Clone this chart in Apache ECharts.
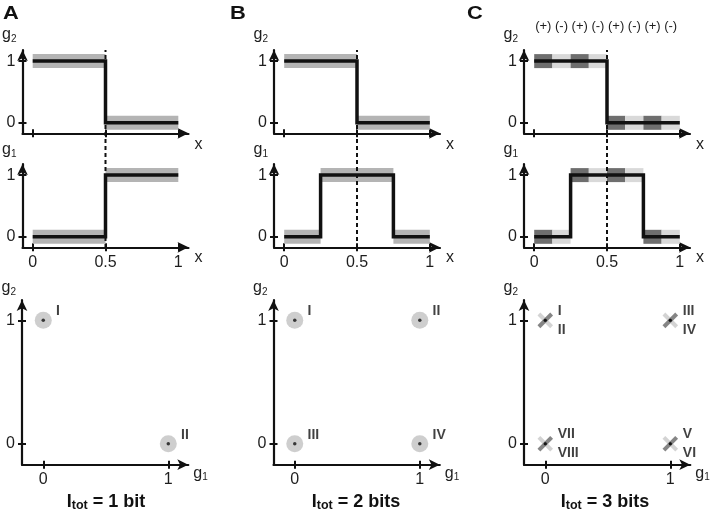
<!DOCTYPE html>
<html><head><meta charset="utf-8">
<script src="https://cdn.jsdelivr.net/npm/echarts@6/dist/echarts.min.js"></script>
<style>html,body{margin:0;padding:0;background:#fff}#chart{width:711px;height:514px}</style>
</head><body><div id="chart"></div>
<script>
// ================= DATA =================
const panelLetters = ['A', 'B', 'C'];
const xTicks = [0, 0.5, 1];
const gTicks = [0, 1];
const boundaryX = 0.5;
const signPositions = [0.0625, 0.1875, 0.3125, 0.4375, 0.5625, 0.6875, 0.8125, 0.9375];
const signLabels = ['(+)', '(-)', '(+)', '(-)', '(+)', '(-)', '(+)', '(-)'];

// step profiles: [x, g]
const g2ProfileA = [[0, 1], [0.5, 1], [0.5, 0], [1, 0]];
const g1ProfileA = [[0, 0], [0.5, 0], [0.5, 1], [1, 1]];
const g2ProfileB = [[0, 1], [0.5, 1], [0.5, 0], [1, 0]];
const g1ProfileB = [[0, 0], [0.25, 0], [0.25, 1], [0.75, 1], [0.75, 0], [1, 0]];
const g2ProfileC = [[0, 1], [0.5, 1], [0.5, 0], [1, 0]];
const g1ProfileC = [[0, 0], [0.25, 0], [0.25, 1], [0.75, 1], [0.75, 0], [1, 0]];

// noise bands: [xStart, xEnd, level, shade]  shade 0 = plain, 1 = (+) dark, 2 = (-) light
const g2BandsA = [[0, 0.5, 1, 0], [0.5, 1, 0, 0]];
const g1BandsA = [[0, 0.5, 0, 0], [0.5, 1, 1, 0]];
const g2BandsB = [[0, 0.5, 1, 0], [0.5, 1, 0, 0]];
const g1BandsB = [[0, 0.25, 0, 0], [0.25, 0.75, 1, 0], [0.75, 1, 0, 0]];
const g2BandsC = [[0, 0.125, 1, 1], [0.125, 0.25, 1, 2], [0.25, 0.375, 1, 1], [0.375, 0.5, 1, 2],
                  [0.5, 0.625, 0, 1], [0.625, 0.75, 0, 2], [0.75, 0.875, 0, 1], [0.875, 1, 0, 2]];
const g1BandsC = [[0, 0.125, 0, 1], [0.125, 0.25, 0, 2], [0.25, 0.375, 1, 1], [0.375, 0.5, 1, 2],
                  [0.5, 0.625, 1, 1], [0.625, 0.75, 1, 2], [0.75, 0.875, 0, 1], [0.875, 1, 0, 2]];

// states in (g1, g2) space
const statesA = ['I', 'II'];
const stateG1A = [0, 1];
const stateG2A = [1, 0];
const statesB = ['I', 'II', 'III', 'IV'];
const stateG1B = [0, 1, 0, 1];
const stateG2B = [1, 1, 0, 0];
const statesC = ['I', 'II', 'III', 'IV', 'V', 'VI', 'VII', 'VIII'];
const stateG1C = [0, 0, 1, 1, 1, 1, 0, 0];
const stateG2C = [1, 1, 1, 1, 0, 0, 0, 0];

const captions = ['1 bit', '2 bits', '3 bits'];

// ================= STYLE / LAYOUT =================
const FONT = "'Liberation Sans', Arial, Helvetica, sans-serif";
const INK = '#111';
const TXT = '#1e1e1e';
const BAND_H = 14;
const shadeColors = ['#b4b4b4', '#6e6e6e', '#d9d9d9'];

const colLeft = [22.5, 274, 524];
const scLeft = [22, 273.5, 524];
const letterX = [3, 230, 467];
const captionX = [106, 356, 605];

const grids = [], xAxes = [], yAxes = [], series = [];

function subName(main, sub) {
  return '{g|' + main + '}{s|' + sub + '}';
}
const nameRich = {
  g: { fontSize: 16, lineHeight: 18, fontFamily: FONT, color: TXT },
  s: { fontSize: 10, lineHeight: 10, verticalAlign: 'bottom', fontFamily: FONT, color: TXT }
};

function addGrid(rect) {
  grids.push(Object.assign({ containLabel: false }, rect));
  return grids.length - 1;
}

function makeAxes(gi, o) {
  const base = (dim) => ({
    type: 'value', gridIndex: gi,
    min: dim === 'x' ? o.xMin : o.yMin, max: dim === 'x' ? o.xMax : o.yMax,
    position: dim === 'x' ? 'bottom' : 'left',
    splitLine: { show: false }
  });
  const lineStyle = { color: INK, width: 2.2 };
  const tickStyle = { color: INK, width: 2 };
  xAxes.push(Object.assign(base('x'), {
    axisLine: { show: true, onZero: false, symbol: ['none', 'arrow'], symbolSize: [8, 11], lineStyle },
    axisTick: { show: true, inside: false, length: 4, customValues: o.xTicks, lineStyle: tickStyle },
    axisLabel: o.xLabels ? { show: true, customValues: o.xTicks, margin: o.xLabelMargin, fontSize: 16, color: TXT, fontFamily: FONT } : { show: false },
    name: o.xName, nameLocation: 'end', nameGap: o.xNameGap,
    nameTextStyle: { fontSize: 16, lineHeight: o.xNameLH, color: TXT, fontFamily: FONT, verticalAlign: 'top', align: 'left', padding: [o.xNamePad, 0, 0, 0], rich: nameRich }
  }));
  const xi = xAxes.length - 1;
  xAxes.push(Object.assign(base('x'), {
    axisLine: { show: false, onZero: false },
    axisTick: { show: true, inside: true, length: 4, customValues: o.xTicks, lineStyle: tickStyle },
    axisLabel: { show: false }
  }));
  yAxes.push(Object.assign(base('y'), {
    axisLine: { show: true, onZero: false, symbol: ['none', 'arrow'], symbolSize: [8, 11], lineStyle },
    axisTick: { show: true, inside: false, length: 4, customValues: gTicks, lineStyle: tickStyle },
    axisLabel: { show: true, customValues: gTicks, margin: o.yLabelMargin, fontSize: 16, color: TXT, fontFamily: FONT },
    name: o.yName, nameLocation: 'end', nameGap: o.yNameGap,
    nameTextStyle: { align: 'right', verticalAlign: 'bottom', padding: [0, 6, 0, 0], rich: nameRich }
  }));
  const yi = yAxes.length - 1;
  yAxes.push(Object.assign(base('y'), {
    axisLine: { show: false, onZero: false },
    axisTick: { show: true, inside: true, length: 4, customValues: gTicks, lineStyle: tickStyle },
    axisLabel: { show: false }
  }));
  return { xi, yi };
}

function bandSeries(ax, data) {
  return {
    type: 'custom', xAxisIndex: ax.xi, yAxisIndex: ax.yi, data, z: 2, silent: true,
    encode: { x: [0, 1], y: 2 },
    renderItem(params, api) {
      const a = api.coord([api.value(0), api.value(2)]);
      const b = api.coord([api.value(1), api.value(2)]);
      return { type: 'rect', shape: { x: a[0], y: a[1] - BAND_H / 2, width: b[0] - a[0], height: BAND_H },
               style: { fill: shadeColors[api.value(3)] } };
    }
  };
}
function stepSeries(ax, data) {
  return {
    type: 'line', xAxisIndex: ax.xi, yAxisIndex: ax.yi, data, symbol: 'none', z: 4, silent: true,
    lineStyle: { color: INK, width: 3.5, join: 'miter', cap: 'butt' }
  };
}

const columns = [
  { g2P: g2ProfileA, g1P: g1ProfileA, g2B: g2BandsA, g1B: g1BandsA, st: statesA, s1: stateG1A, s2: stateG2A, cross: false },
  { g2P: g2ProfileB, g1P: g1ProfileB, g2B: g2BandsB, g1B: g1BandsB, st: statesB, s1: stateG1B, s2: stateG2B, cross: false },
  { g2P: g2ProfileC, g1P: g1ProfileC, g2B: g2BandsC, g1B: g1BandsC, st: statesC, s1: stateG1C, s2: stateG2C, cross: true }
];

const graphics = [];

columns.forEach((col, c) => {
  // ---- top: g2 vs x ----
  const gTop = addGrid({ left: colLeft[c], top: 50, width: 166, height: 83.3 });
  const axTop = makeAxes(gTop, {
    xMin: -0.07, xMax: 1.07, yMin: -0.17, yMax: 1.18, xTicks: xTicks, xLabels: false,
    xName: 'x', xNameGap: 6, xNameLH: 16, xNamePad: 3, yName: subName('g', '2'), yNameGap: 6, yLabelMargin: 7
  });
  series.push(bandSeries(axTop, col.g2B));
  series.push(stepSeries(axTop, col.g2P));

  // ---- middle: g1 vs x ----
  const gMid = addGrid({ left: colLeft[c], top: 164, width: 166, height: 83.3 });
  const axMid = makeAxes(gMid, {
    xMin: -0.07, xMax: 1.07, yMin: -0.17, yMax: 1.18, xTicks: xTicks, xLabels: true, xLabelMargin: 7,
    xName: 'x', xNameGap: 6, xNameLH: 16, xNamePad: 2, yName: subName('g', '1'), yNameGap: 5, yLabelMargin: 7
  });
  series.push(bandSeries(axMid, col.g1B));
  series.push(stepSeries(axMid, col.g1P));

  // ---- dashed boundary spanning both panels ----
  const gOv = addGrid({ left: colLeft[c], top: 50, width: 166, height: 198 });
  xAxes.push({ type: 'value', gridIndex: gOv, min: -0.07, max: 1.07, show: false });
  yAxes.push({ type: 'value', gridIndex: gOv, min: 0, max: 1, show: false });
  series.push({
    type: 'line', xAxisIndex: xAxes.length - 1, yAxisIndex: yAxes.length - 1,
    data: [[boundaryX, 0], [boundaryX, 1]], symbol: 'none', z: 3, silent: true,
    lineStyle: { color: INK, width: 2, type: [4, 3] }
  });

  if (c === 2) {
    xAxes.push({
      type: 'value', gridIndex: gTop, min: -0.07, max: 1.07, position: 'top',
      axisLine: { show: false, onZero: false }, axisTick: { show: false }, splitLine: { show: false },
      axisLabel: {
        show: true, customValues: signPositions, margin: 17, fontSize: 13, color: TXT, fontFamily: FONT,
        formatter: (v) => { const i = signPositions.findIndex(p => Math.abs(p - v) < 1e-6); return i >= 0 ? signLabels[i] : ''; }
      }
    });
  }

  // ---- bottom: g2 vs g1 ----
  const gSc = addGrid({ left: scLeft[c], top: 300, width: 166.3, height: 164.7 });
  const axSc = makeAxes(gSc, {
    xMin: -0.17, xMax: 1.16, yMin: -0.17, yMax: 1.165, xTicks: gTicks, xLabels: true, xLabelMargin: 7,
    xName: subName('g', '1'), xNameGap: 5, xNameLH: 18, xNamePad: 0, yName: subName('g', '2'), yNameGap: 3, yLabelMargin: 7
  });
  const pts = col.st.map((name, i) => ({ name, value: [col.s1[i], col.s2[i]] }));
  const labelBase = { show: true, formatter: (p) => p.name, fontWeight: 'bold', fontSize: 14, color: INK, fontFamily: FONT, position: 'right' };
  if (!col.cross) {
    series.push({ type: 'scatter', xAxisIndex: axSc.xi, yAxisIndex: axSc.yi, data: pts, symbol: 'circle', symbolSize: 17,
      itemStyle: { color: '#c2c2c2' }, z: 3, silent: true });
    series.push({ type: 'scatter', xAxisIndex: axSc.xi, yAxisIndex: axSc.yi, data: pts, symbol: 'circle', symbolSize: 3.5,
      itemStyle: { color: INK }, z: 5, silent: true,
      label: Object.assign({}, labelBase, { distance: 11, offset: [0, -9] }) });
  } else {
    const light = pts.filter((p, i) => i % 2 === 0);
    const dark = pts.filter((p, i) => i % 2 === 1);
    series.push({ type: 'scatter', xAxisIndex: axSc.xi, yAxisIndex: axSc.yi, data: light, symbol: 'rect', symbolSize: [18, 4],
      symbolRotate: -45, itemStyle: { color: '#c8c8c8' }, z: 3, silent: true });
    series.push({ type: 'scatter', xAxisIndex: axSc.xi, yAxisIndex: axSc.yi, data: dark, symbol: 'rect', symbolSize: [18, 4],
      symbolRotate: 45, itemStyle: { color: '#666666' }, z: 4, silent: true });
    const labeled = pts.map((p, i) => Object.assign({}, p, { label: { offset: [1, i % 2 === 0 ? -9.5 : 9.5] } }));
    series.push({ type: 'scatter', xAxisIndex: axSc.xi, yAxisIndex: axSc.yi, data: labeled, symbol: 'circle', symbolSize: 3,
      itemStyle: { color: INK }, z: 5, silent: true,
      label: Object.assign({}, labelBase, { distance: 10 }) });
  }

  // ---- captions & panel letters ----
  graphics.push({
    type: 'text', x: captionX[c], y: 502, silent: true,
    style: {
      text: '{i|I}{t|tot}{i| = ' + captions[c] + '}', align: 'center', verticalAlign: 'middle',
      rich: {
        i: { fontSize: 18, lineHeight: 20, fontWeight: 'bold', fontFamily: FONT, fill: INK, color: INK },
        t: { fontSize: 12.5, lineHeight: 10, verticalAlign: 'bottom', fontWeight: 'bold', fontFamily: FONT, fill: INK, color: INK }
      }
    }
  });
  graphics.push({
    type: 'text', x: letterX[c], y: 13.5, scaleX: 1.15, silent: true,
    style: { text: panelLetters[c], align: 'left', verticalAlign: 'middle', font: 'bold 19px ' + FONT, fill: INK }
  });
});

const chart = echarts.init(document.getElementById('chart'), null, { renderer: 'canvas' });
chart.setOption({
  animation: false,
  backgroundColor: '#ffffff',
  grid: grids,
  xAxis: xAxes,
  yAxis: yAxes,
  series: series,
  graphic: graphics
});
</script></body></html>
